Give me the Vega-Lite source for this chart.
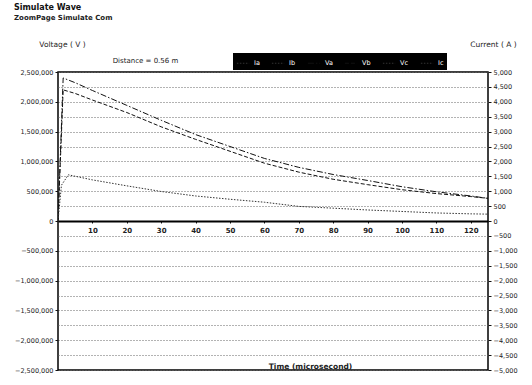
{
  "$schema": "https://vega.github.io/schema/vega-lite/v6.json",
  "width": 430,
  "height": 298,
  "autosize": "none",
  "padding": {"left": 58, "top": 72, "right": 44, "bottom": 15},
  "background": "white",
  "title": {
    "text": "Simulate Wave",
    "subtitle": "ZoomPage   Simulate   Com",
    "anchor": "start",
    "frame": "group",
    "dx": -44,
    "offset": 19,
    "font": "DejaVu Sans",
    "fontSize": 8,
    "fontWeight": "bold",
    "color": "#111",
    "subtitleFont": "DejaVu Sans",
    "subtitleFontSize": 7,
    "subtitleFontWeight": "bold",
    "subtitleColor": "#222",
    "subtitlePadding": 2
  },
  "config": {
    "view": {"stroke": "black", "strokeWidth": 1.5},
    "axis": {
      "labelFont": "DejaVu Sans",
      "titleFont": "DejaVu Sans",
      "labelColor": "#222",
      "titleColor": "#222",
      "tickColor": "#111",
      "labelFontSize": 6.5,
      "titleFontSize": 7.5,
      "titleFontWeight": "normal"
    }
  },
  "data": {
    "values": [
      {"series": "Va", "t": 0, "value": 0},
      {"series": "Va", "t": 1.5, "value": 2400000},
      {"series": "Va", "t": 5, "value": 2320000},
      {"series": "Va", "t": 10, "value": 2190000},
      {"series": "Va", "t": 20, "value": 1940000},
      {"series": "Va", "t": 30, "value": 1690000},
      {"series": "Va", "t": 40, "value": 1450000},
      {"series": "Va", "t": 50, "value": 1250000},
      {"series": "Va", "t": 60, "value": 1050000},
      {"series": "Va", "t": 70, "value": 900000},
      {"series": "Va", "t": 80, "value": 780000},
      {"series": "Va", "t": 90, "value": 680000},
      {"series": "Va", "t": 100, "value": 575000},
      {"series": "Va", "t": 110, "value": 490000},
      {"series": "Va", "t": 120, "value": 420000},
      {"series": "Va", "t": 125, "value": 380000},
      {"series": "Vb", "t": 0, "value": 0},
      {"series": "Vb", "t": 1.5, "value": 2200000},
      {"series": "Vb", "t": 5, "value": 2140000},
      {"series": "Vb", "t": 10, "value": 2030000},
      {"series": "Vb", "t": 20, "value": 1820000},
      {"series": "Vb", "t": 30, "value": 1580000},
      {"series": "Vb", "t": 40, "value": 1370000},
      {"series": "Vb", "t": 50, "value": 1170000},
      {"series": "Vb", "t": 60, "value": 970000},
      {"series": "Vb", "t": 70, "value": 820000},
      {"series": "Vb", "t": 80, "value": 700000},
      {"series": "Vb", "t": 90, "value": 610000},
      {"series": "Vb", "t": 100, "value": 525000},
      {"series": "Vb", "t": 110, "value": 460000},
      {"series": "Vb", "t": 120, "value": 410000},
      {"series": "Vb", "t": 125, "value": 380000},
      {"series": "Ia", "t": 0, "value": 0},
      {"series": "Ia", "t": 1, "value": 1200},
      {"series": "Ia", "t": 3, "value": 1550},
      {"series": "Ia", "t": 10, "value": 1380},
      {"series": "Ia", "t": 20, "value": 1180},
      {"series": "Ia", "t": 30, "value": 990},
      {"series": "Ia", "t": 40, "value": 840},
      {"series": "Ia", "t": 50, "value": 730},
      {"series": "Ia", "t": 60, "value": 630},
      {"series": "Ia", "t": 70, "value": 490},
      {"series": "Ia", "t": 80, "value": 430},
      {"series": "Ia", "t": 90, "value": 370},
      {"series": "Ia", "t": 100, "value": 320},
      {"series": "Ia", "t": 110, "value": 270},
      {"series": "Ia", "t": 120, "value": 240},
      {"series": "Ia", "t": 125, "value": 230}
    ]
  },
  "layer": [
    {
      "transform": [{"filter": "datum.series === 'Va' || datum.series === 'Vb'"}],
      "mark": {"type": "line", "strokeWidth": 1, "clip": true},
      "encoding": {
        "x": {
          "field": "t", "type": "quantitative",
          "scale": {"domain": [0, 125], "nice": false, "zero": false},
          "axis": {
            "orient": "bottom",
            "offset": -149,
            "values": [10, 20, 30, 40, 50, 60, 70, 80, 90, 100, 110, 120],
            "domainColor": "black",
            "domainWidth": 2,
            "tickSize": 2,
            "labelFontSize": 7,
            "labelFontWeight": "bold",
            "labelPadding": 3,
            "grid": false,
            "title": "Time (microsecond)",
            "titleFontWeight": "bold",
            "titleFontSize": 7.5,
            "titleX": 252,
            "titleY": 145,
            "titleAlign": "center",
            "titleBaseline": "middle"
          }
        },
        "y": {
          "field": "value", "type": "quantitative",
          "scale": {"domain": [-2500000, 2500000], "nice": false},
          "axis": {
            "orient": "left",
            "values": [-2500000, -2000000, -1500000, -1000000, -500000, 0, 500000, 1000000, 1500000, 2000000, 2500000],
            "labelExpr": "format(datum.value, ',')",
            "domain": false,
            "grid": false,
            "tickSize": 3,
            "labelPadding": 2,
            "title": "Voltage ( V )",
            "titleAngle": 0,
            "titleX": 4,
            "titleY": -28,
            "titleAlign": "center",
            "titleBaseline": "middle"
          }
        },
        "color": {
          "field": "series", "type": "nominal",
          "scale": {"domain": ["Ia", "Ib", "Va", "Vb", "Vc", "Ic"], "range": ["#333", "#333", "#111", "#111", "#333", "#333"]},
          "legend": {
            "orient": "none",
            "legendX": 175,
            "legendY": -19,
            "direction": "horizontal",
            "title": null,
            "fillColor": "black",
            "padding": 3,
            "labelColor": "white",
            "labelFont": "DejaVu Sans",
            "labelFontSize": 6.5,
            "symbolType": "stroke",
            "symbolSize": 150,
            "symbolStrokeWidth": 1,
            "symbolDash": [2, 2],
            "columnPadding": 9,
            "labelOffset": 4,
            "encode": {
              "symbols": {"update": {"stroke": {"value": "white"}}},
              "labels": {"update": {"fill": {"value": "white"}}}
            }
          }
        },
        "strokeDash": {
          "field": "series", "type": "nominal",
          "scale": {"domain": ["Ia", "Ib", "Va", "Vb", "Vc", "Ic"], "range": [[1.5, 1.5], [1.5, 1.5], [6, 2, 1.5, 2], [4, 2], [1.5, 1.5], [1.5, 1.5]]},
          "legend": null
        }
      }
    },
    {
      "transform": [{"filter": "datum.series === 'Ia'"}],
      "mark": {"type": "line", "strokeWidth": 1, "clip": true},
      "encoding": {
        "x": {
          "field": "t", "type": "quantitative",
          "axis": {
            "orient": "top",
            "labels": false,
            "ticks": false,
            "domain": false,
            "grid": false,
            "title": "Distance = 0.56 m",
            "titleFontSize": 7,
            "titleX": 87,
            "titleY": -12,
            "titleAlign": "center",
            "titleBaseline": "middle"
          }
        },
        "y": {
          "field": "value", "type": "quantitative",
          "scale": {"domain": [-5000, 5000], "nice": false},
          "axis": {
            "orient": "right",
            "values": [-5000, -4500, -4000, -3500, -3000, -2500, -2000, -1500, -1000, -500, 0, 500, 1000, 1500, 2000, 2500, 3000, 3500, 4000, 4500, 5000],
            "labelExpr": "format(datum.value, ',')",
            "domain": false,
            "grid": true,
            "gridColor": "#666",
            "gridDash": [1, 2],
            "gridWidth": 1,
            "tickSize": 3,
            "labelPadding": 2,
            "title": "Current ( A )",
            "titleAngle": 0,
            "titleX": 5,
            "titleY": -28,
            "titleAlign": "center",
            "titleBaseline": "middle"
          }
        },
        "color": {"field": "series", "type": "nominal"},
        "strokeDash": {"field": "series", "type": "nominal", "legend": null}
      }
    }
  ],
  "resolve": {"scale": {"y": "independent"}, "axis": {"x": "independent", "y": "independent"}}
}
